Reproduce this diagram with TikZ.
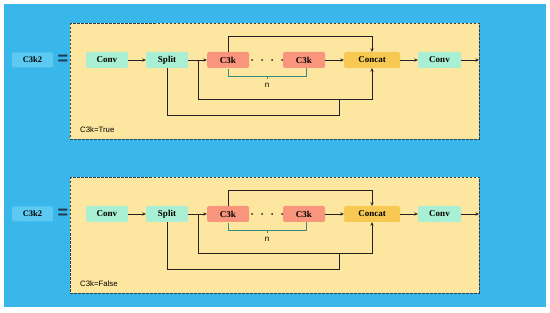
\documentclass[tikz,border=0pt]{standalone}
\usepackage{fontspec}
\setmainfont{Liberation Serif}
\setsansfont{Liberation Sans}
\usetikzlibrary{arrows.meta}
\definecolor{bgblue}{HTML}{3AB7EA}
\definecolor{lblblue}{HTML}{5CC9F2}
\definecolor{panelfill}{HTML}{FDE6A0}
\definecolor{mint}{HTML}{A8EFD4}
\definecolor{salmon}{HTML}{F8957C}
\definecolor{concatc}{HTML}{F7C852}
\definecolor{linec}{HTML}{222222}
\definecolor{dashc}{HTML}{2B4050}
\definecolor{brackc}{HTML}{3F8A80}
\definecolor{eqc}{HTML}{1F3550}
\tikzset{
  blk/.style={rounded corners=1.5pt, minimum height=16pt, inner sep=0pt,
    font=\fontsize{9}{9}\selectfont\bfseries, text=black},
  convbox/.style={blk, fill=mint, minimum width=42pt},
  c3kbox/.style={blk, fill=salmon, minimum width=42pt},
  concatbox/.style={blk, fill=concatc, minimum width=56pt},
  lblbox/.style={blk, fill=lblblue, minimum width=41pt, minimum height=15pt, font=\fontsize{8.5}{9}\selectfont\bfseries},
  panel/.style={draw=dashc, fill=panelfill, line width=0.8pt, dash pattern=on 2.5pt off 1.5pt},
  conn/.style={draw=linec, line width=0.95pt},
  arr/.style={conn, -{Stealth[length=3.5pt,width=3.2pt]}},
  brack/.style={draw=brackc, line width=0.95pt},
  dotc/.style={circle, fill=linec, inner sep=0pt, minimum size=2pt},
  captxt/.style={font=\sffamily\fontsize{7.8}{8}\selectfont, text=black, inner sep=0pt, anchor=west},
  ntxt/.style={font=\sffamily\fontsize{8}{8}\selectfont, text=black, inner sep=0pt},
  eqtxt/.style={font=\sffamily\bfseries\fontsize{18}{18}\selectfont, text=eqc, inner sep=0pt}
}
\begin{document}
\begin{tikzpicture}[x=1pt,y=-1pt]
\useasboundingbox (0,0) rectangle (550,313);
\fill[white] (0,0) rectangle (550,313);
\fill[bgblue] (4,4) rectangle (546,307);
\foreach \dy/\cap/\p in {0/C3k=True/t, 154/C3k=False/b} {
  \begin{scope}[yshift=-\dy pt]
  \path[panel] (70,23) rectangle (479,139);
  \node[lblbox] (lbl\p) at (32.5,60) {C3k2};
  \node[eqtxt] (eq\p) at (63,59.5) {=};
  \node[convbox] (convA\p) at (107,60) {Conv};
  \node[convbox] (split\p) at (167,60) {Split};
  \node[c3kbox] (c3kA\p) at (228,60) {C3k};
  \node[c3kbox] (c3kB\p) at (304,60) {C3k};
  \node[concatbox] (concat\p) at (372,60) {Concat};
  \node[convbox, minimum width=43pt] (convB\p) at (439.5,60) {Conv};
  \coordinate (out\p) at (479,60);
  \coordinate (j\p) at (198,60);
  \coordinate (top\p) at (228,36);
  \coordinate (mid\p) at (198,99);
  \coordinate (low\p) at (167,115);
  \coordinate (lowr\p) at (339,99);
  \foreach \i/\x in {1/252,2/262,3/272,4/282} {\node[dotc] (d\i\p) at (\x,60) {};}
  \draw[arr] (convA\p.east) -- (split\p.west);
  \draw[arr] (split\p.east) -- (c3kA\p.west);
  \draw[arr] (c3kB\p.east) -- (concat\p.west);
  \draw[arr] (concat\p.east) -- (convB\p.west);
  \draw[arr] (convB\p.east) -- (out\p);
  \draw[arr] (c3kA\p.north) -- (top\p) -| (concat\p.north);
  \draw[arr] (j\p) -- (mid\p) -| (concat\p.south);
  \draw[conn] (split\p.south) -- (low\p) -| (lowr\p);
  \coordinate (bl\p) at (228,76);
  \coordinate (br\p) at (306,76);
  \coordinate (bm\p) at (267,76);
  \draw[brack] (228,69) -- (bl\p) -- (br\p) -- (306,68);
  \draw[brack] (bm\p) -- ++(0,3);
  \node[ntxt] (n\p) at (267,85) {n};
  \node[captxt] (cap\p) at (80,129.5) {\cap};
  \end{scope}
}
\end{tikzpicture}
\end{document}
